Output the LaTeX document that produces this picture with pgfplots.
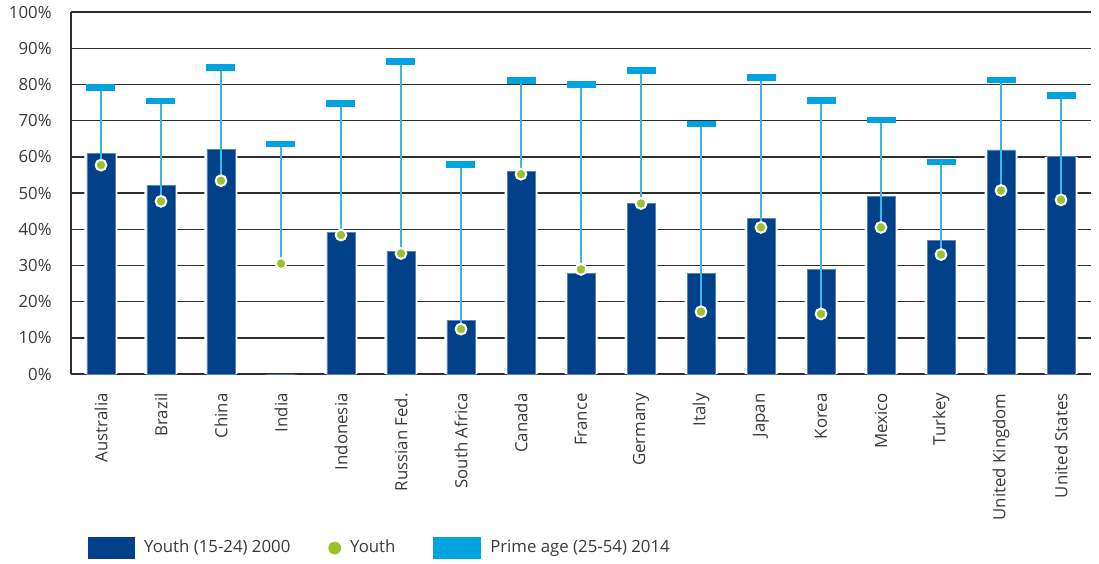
\documentclass[border=0pt]{standalone}
\usepackage{fontspec}
\setmainfont{Open Sans}
\usepackage{pgfplots}
\usepackage{pgfplotstable}
\pgfplotsset{compat=1.18}
\definecolor{barblue}{HTML}{00418A}
\definecolor{primeblue}{HTML}{00A3E0}
\definecolor{linec}{HTML}{3DB8E6}
\definecolor{dotgreen}{HTML}{9DC12B}
\definecolor{gridc}{HTML}{2E2E2E}
\definecolor{textc}{HTML}{3A3A3A}
\pgfdeclareplotmark{hbar}{\pgfpathrectangle{\pgfqpoint{-7.25pt}{-1.65pt}}{\pgfqpoint{14.5pt}{3.3pt}}\pgfusepath{fill}}
\pgfplotstableread{
x bar dot prime
0 61.0 57.7 79.1
1 52.0 47.7 75.4
2 62.0 53.4 84.6
3 0 30.5 63.5
4 39.0 38.4 74.7
5 33.9 33.3 86.3
6 14.7 12.4 57.8
7 56.0 55.2 81.0
8 27.8 28.9 79.9
9 47.0 47.1 83.8
10 27.8 17.2 69.1
11 42.9 40.5 81.9
12 28.9 16.6 75.5
13 49.0 40.5 70.2
14 36.9 33.0 58.6
15 61.9 50.7 81.2
16 60.0 48.1 77.0
}\data
\begin{document}
\begin{tikzpicture}
\useasboundingbox (-35.5pt,-94.5pt) rectangle (514pt,187pt);
\begin{axis}[
  scale only axis, width=510pt, height=181pt,
  xmin=-0.5, xmax=16.5, ymin=0, ymax=100,
  axis x line=bottom, axis y line=left,
  axis line style={-, draw=gridc, line width=0.7pt},
  ytick={0,10,...,100},
  yticklabel={\pgfmathprintnumber{\tick}\%},
  ymajorgrids, grid style={draw=gridc, line width=0.7pt},
  xtick={0,...,16},
  xticklabels={Australia,Brazil,China,India,Indonesia,Russian Fed.,South Africa,Canada,France,Germany,Italy,Japan,Korea,Mexico,Turkey,United Kingdom,United States},
  major tick length=0pt,
  tick label style={font=\fontsize{8.4}{10}\selectfont, text=textc},
  /pgf/number format/assume math mode=true,
  yticklabel style={anchor=east, inner sep=0pt},
  yticklabel shift=9.5pt,
  xticklabel style={rotate=90, anchor=east, inner sep=0pt},
  xticklabel shift=9.5pt,
  legend columns=3,
  legend cell align=left,
  legend style={at={(0.01667,-0.4807)}, anchor=west, draw=none, fill=none, inner sep=0pt,
    font=\fontsize{8.4}{10}\selectfont, text=textc, nodes={inner sep=0pt},
    /tikz/every odd column/.append style={column sep=4.5pt},
    /tikz/every even column/.append style={column sep=19pt}},
]
\addplot[ybar, bar width=16.5pt, bar shift=0pt, fill=white, draw=none, forget plot] table[x=x, y=bar] {\data};
\addplot[ybar, bar width=14pt, bar shift=0pt, fill=barblue, draw=barblue!65!white, line width=0.4pt,
  legend image code/.code={\fill[barblue] (0pt,-5.25pt) rectangle (23pt,5.25pt);}] table[x=x, y=bar] {\data};
\addlegendentry{Youth (15-24) 2000}
\addplot[draw=none, mark=none, forget plot,
  error bars/.cd, y dir=minus, y explicit, error mark=none,
  error bar style={draw=linec, line width=0.7pt, solid}]
  table[x=x, y=prime, y error minus expr=\thisrow{prime}-\thisrow{dot}] {\data};
\addplot[only marks, mark=*, mark size=2.7pt, mark options={fill=dotgreen, draw=white, line width=1pt},
  legend image code/.code={\fill[dotgreen] (3pt,0pt) circle (3pt);}]
  table[x=x, y=dot] {\data};
\addlegendentry{Youth}
\addplot[only marks, mark=hbar, color=primeblue, mark options={fill=primeblue, draw=none},
  legend image code/.code={\fill[primeblue] (0pt,-5.25pt) rectangle (23.5pt,5.25pt);}]
  table[x=x, y=prime] {\data};
\addlegendentry{Prime age (25-54) 2014}
\end{axis}
\end{tikzpicture}
\end{document}
